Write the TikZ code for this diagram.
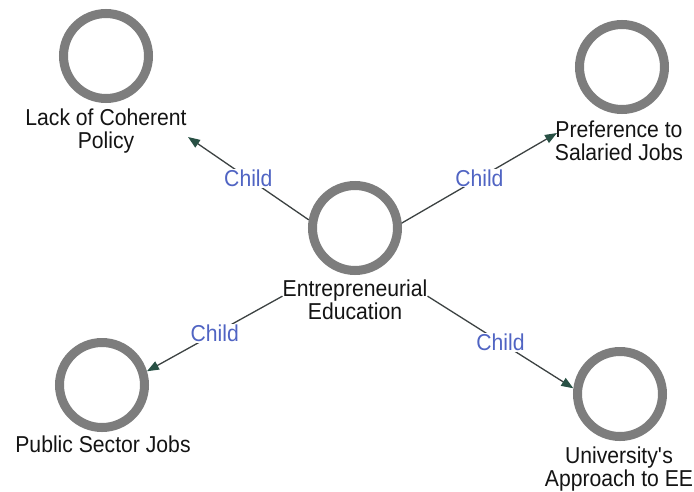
\documentclass[tikz,border=0pt]{standalone}
\usepackage{fontspec}
\setmainfont{Liberation Sans}[FakeStretch=0.92]
\usetikzlibrary{arrows.meta}
\definecolor{ringgray}{RGB}{125,125,125}
\definecolor{edgegray}{RGB}{60,66,66}
\definecolor{tipgreen}{RGB}{40,80,68}
\definecolor{childblue}{RGB}{80,100,195}
\definecolor{textcol}{RGB}{20,20,20}
\begin{document}
\begin{tikzpicture}[x=1pt,y=-1pt,
  ring/.style={circle,draw=ringgray,line width=9pt,minimum size=85pt,inner sep=0pt},
  lbl/.style={anchor=north,align=center,inner sep=0pt,text=textcol,font=\fontsize{23}{23}\selectfont},
  edge/.style={draw=edgegray,line width=1.3pt,-{Triangle[length=12pt,width=9pt,color=tipgreen]}},
  child/.style={fill=white,inner sep=1pt,text=childblue,font=\fontsize{23}{23}\selectfont}]
\useasboundingbox[fill=white] (0,0) rectangle (694,491);

\node[ring] (c) at (355,228) {};
\node[lbl] (ct) at (355,280) {Entrepreneurial\\Education};
\node[ring] (tl) at (106,56) {};
\node[lbl] (tlt) at (106,109) {Lack of Coherent\\Policy};
\node[ring] (tr) at (622,67) {};
\node[lbl] (trt) at (619,121) {Preference to\\Salaried Jobs};
\node[ring] (bl) at (102,385) {};
\node[lbl] (blt) at (103,436) {Public Sector Jobs};
\node[ring] (br) at (620,394) {};
\node[lbl] (brt) at (619,447) {University\textquotesingle s\\Approach to EE};

\coordinate (tlEnd) at (188,137);
\coordinate (trEnd) at (557,133);

\draw[edge] (c.170) -- node[child] {Child} (tlEnd);
\draw[edge] (c.6) -- node[child] {Child} (trEnd);
\draw[edge] ([yshift=4pt]ct.west) -- node[child] {Child} (bl.17);
\draw[edge] ([yshift=4pt]ct.east) -- node[child] {Child} (br.173);
\end{tikzpicture}
\end{document}
